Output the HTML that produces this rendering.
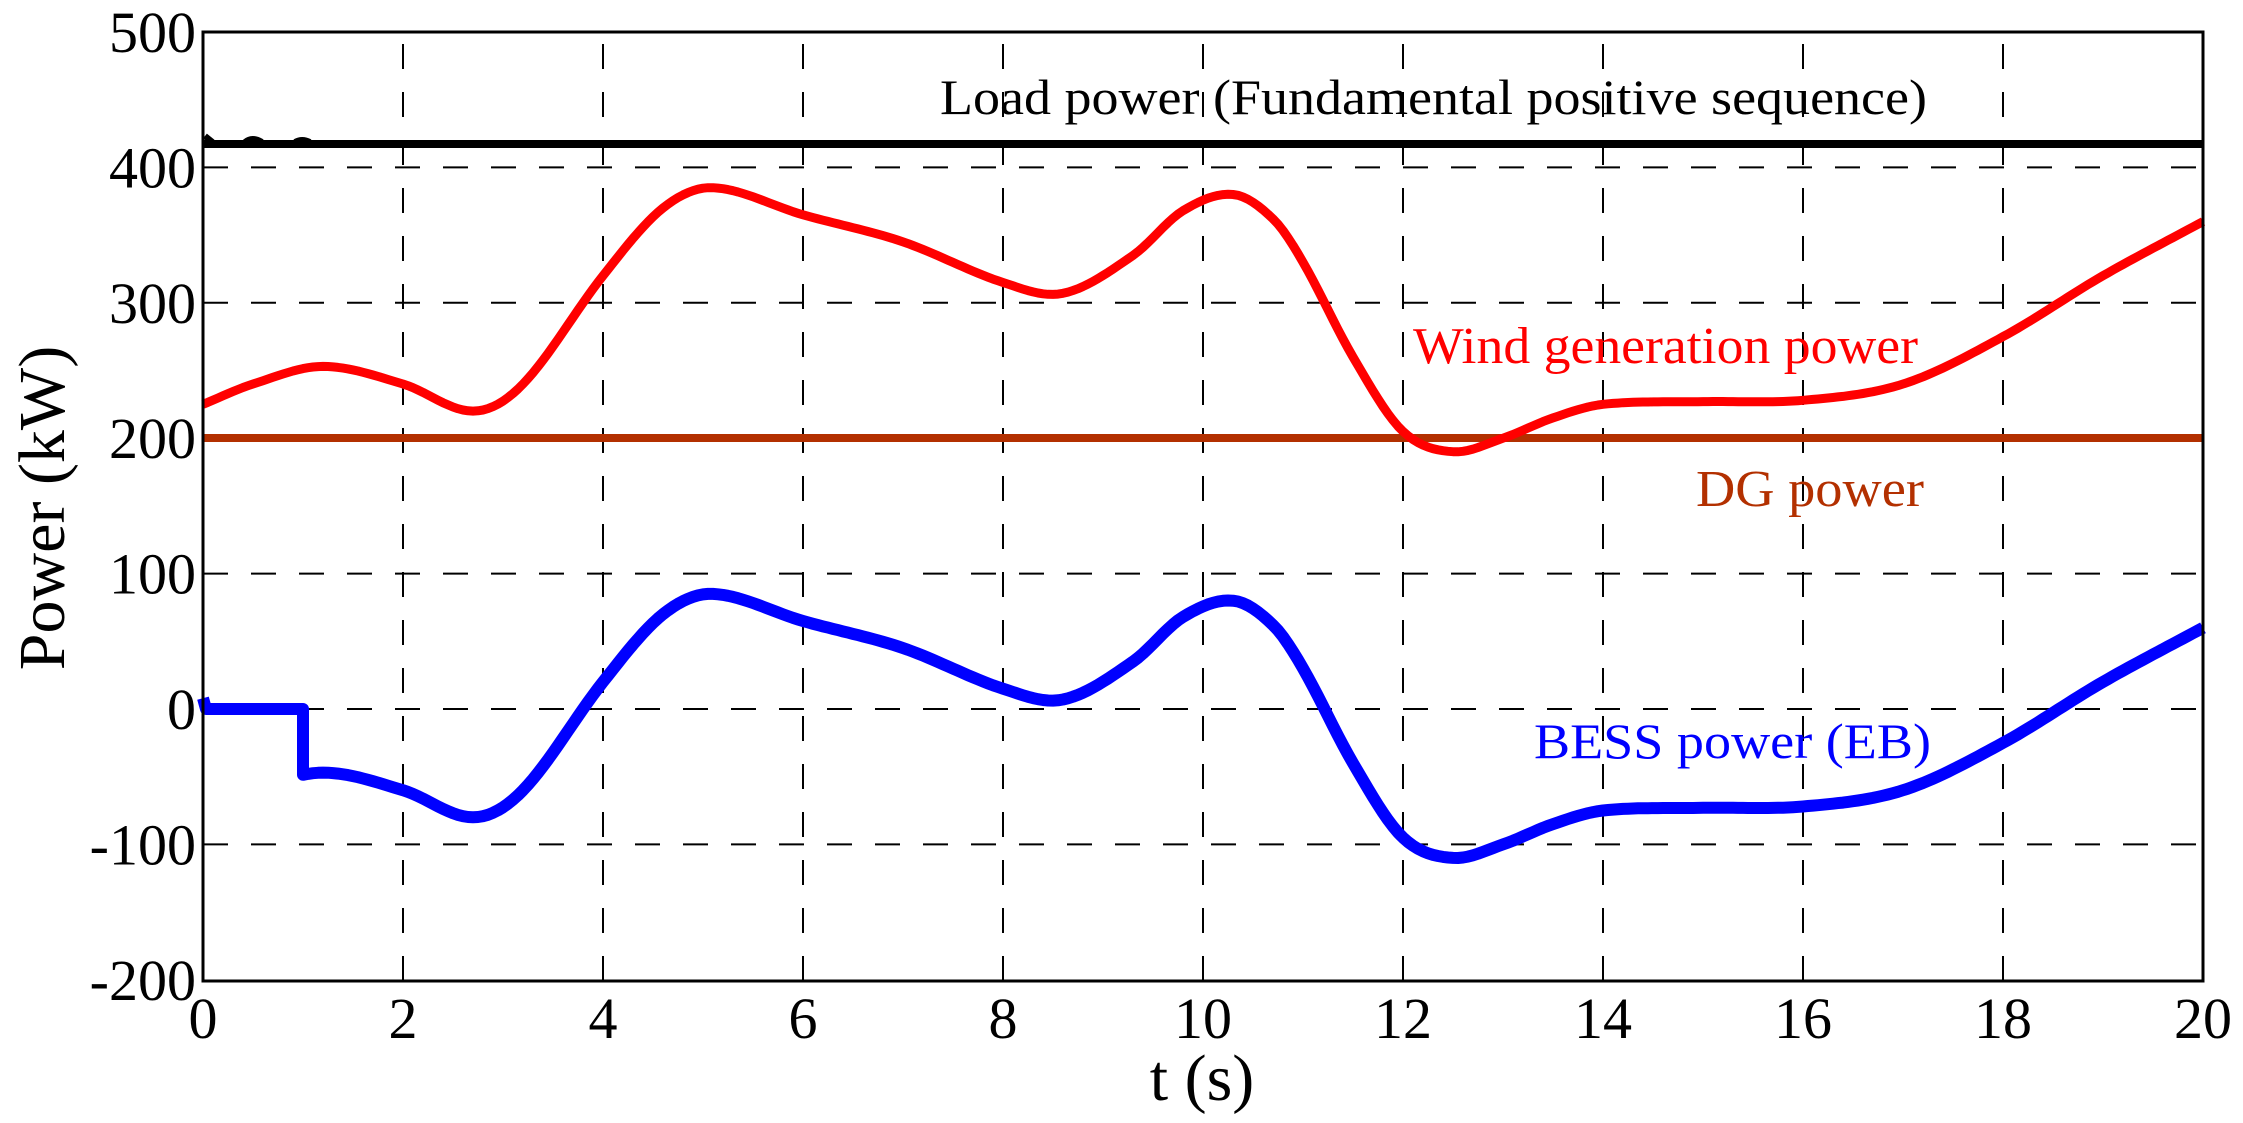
<!DOCTYPE html>
<html><head><style>body{margin:0;background:#fff}svg{display:block}</style></head>
<body>
<svg id="s" width="2243" height="1123" xmlns="http://www.w3.org/2000/svg" font-family="Liberation Serif, serif">
<g id="grid" stroke="#000" stroke-width="2" stroke-dasharray="25,23" fill="none"></g>
<line x1="203" y1="438" x2="2203" y2="438" stroke="#b33000" stroke-width="8"/>
<line x1="203" y1="144" x2="2203" y2="144" stroke="#000" stroke-width="8"/>
<path d="M205 136 L210 140 L206 144 M245 142 Q252 136 262 142 M295 142 Q302 138 310 142" stroke="#000" stroke-width="6" fill="none"/>
<path id="wind" fill="none" stroke="#ff0000" stroke-width="9" stroke-linejoin="round"/>
<path id="bess" fill="none" stroke="#0000ff" stroke-width="12" stroke-linejoin="round"/>
<rect x="203" y="32" width="2000" height="949" fill="none" stroke="#000" stroke-width="3"/>
<g id="ticks" font-size="58" fill="#000"></g>
<text x="940" y="114" font-size="50" textLength="987" lengthAdjust="spacingAndGlyphs">Load power (Fundamental positive sequence)</text>
<text x="1413" y="363" font-size="52" fill="#ff0000" textLength="505" lengthAdjust="spacingAndGlyphs">Wind generation power</text>
<text x="1696" y="506" font-size="52" fill="#b33000" textLength="228" lengthAdjust="spacingAndGlyphs">DG power</text>
<text x="1534" y="758" font-size="50" fill="#0000ff" textLength="397" lengthAdjust="spacingAndGlyphs">BESS power (EB)</text>
<text x="1202" y="1100" font-size="66" text-anchor="middle">t (s)</text>
<text transform="translate(64,508) rotate(-90)" font-size="66" text-anchor="middle">Power (kW)</text>
</svg>
<script>
var X=t=>203+t*100, Y=v=>709-v*1.354;
var g=document.getElementById('grid'),tk=document.getElementById('ticks'),h='',k='';
for(var i=1;i<10;i++){h+='<line x1="'+X(2*i)+'" y1="981" x2="'+X(2*i)+'" y2="32"/>';}
for(var v=-100;v<500;v+=100){h+='<line x1="203" y1="'+Y(v)+'" x2="2203" y2="'+Y(v)+'"/>';}
g.innerHTML=h;
for(var i=0;i<=10;i++){k+='<text x="'+X(2*i)+'" y="1038" text-anchor="middle">'+(2*i)+'</text>';}
for(var v=-200;v<=500;v+=100){k+='<text x="196" y="'+(Y(v)+20)+'" text-anchor="end">'+v+'</text>';}
tk.innerHTML=k;
var P=[[0,225],[0.5,240],[1.2,253],[2,240],[2.7,220],[3.2,240],[4,320],[4.6,370],[5.1,385],[6,365],[7,345],[8,315],[8.6,307],[9.3,335],[9.8,368],[10.3,380],[10.7,362],[11,330],[11.5,260],[12,205],[12.5,190],[13,200],[13.5,215],[14,225],[15,227],[16,228],[17,240],[18,275],[19,320],[20,360]];
function val(t){for(var i=0;i<P.length-1;i++){if(t<=P[i+1][0]){var p0=P[Math.max(i-1,0)],p1=P[i],p2=P[i+1],p3=P[Math.min(i+2,P.length-1)];var u=(t-p1[0])/(p2[0]-p1[0]);
var m1=(p2[1]-p0[1])/(p2[0]-p0[0])*(p2[0]-p1[0]),m2=(p3[1]-p1[1])/(p3[0]-p1[0])*(p2[0]-p1[0]);
var u2=u*u,u3=u2*u;return (2*u3-3*u2+1)*p1[1]+(u3-2*u2+u)*m1+(-2*u3+3*u2)*p2[1]+(u3-u2)*m2;}}return P[P.length-1][1];}
var w='',b='M'+X(0)+' '+Y(8)+' L'+X(0.03)+' '+Y(0)+' L'+X(1)+' '+Y(0);
for(var t=0;t<=20.0001;t+=0.05){var vv=val(t);w+=(t==0?'M':'L')+X(t).toFixed(1)+' '+Y(vv).toFixed(1)+' ';if(t>=1)b+=' L'+X(t).toFixed(1)+' '+Y(vv-300).toFixed(1);}
document.getElementById('wind').setAttribute('d',w);
document.getElementById('bess').setAttribute('d',b);
</script>
</body></html>
